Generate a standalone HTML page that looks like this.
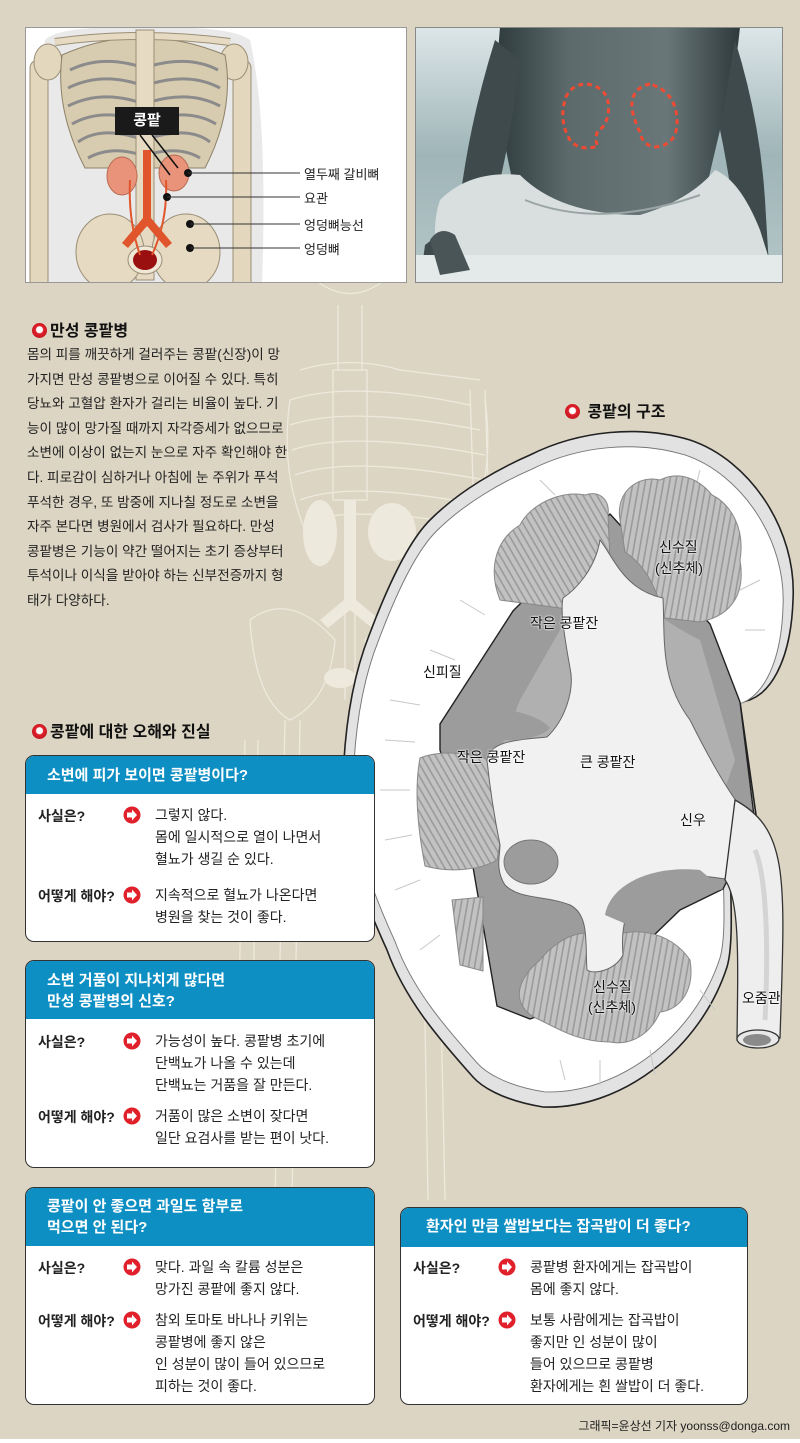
<!DOCTYPE html>
<html><head><meta charset="utf-8">
<style>
*{margin:0;padding:0;box-sizing:border-box}
body{width:800px;height:1443px;background:#dcd5c3;position:relative;overflow:hidden;font-family:"Liberation Sans","Noto Sans CJK KR",sans-serif;color:#222}
.abs{position:absolute}
svg{position:absolute;left:0;top:0}
.h{position:absolute;font-weight:bold;font-size:16px;color:#111;white-space:nowrap}
.dot{display:inline-block;width:15px;height:15px;border-radius:50%;background:radial-gradient(circle at 50% 45%,#fff 0 3px,#e0202a 4px,#b0101a 100%);vertical-align:-2px;margin-right:3px}
.para{position:absolute;left:27px;top:343px;font-size:13.6px;line-height:24.6px;white-space:nowrap;color:#222}
.box{position:absolute;background:#fff;border:1.3px solid #333;border-radius:9px;overflow:hidden}
.bh{background:#0d8fc3;color:#fff;font-weight:bold;font-size:15px;padding-left:21px;line-height:21px}
.lb{position:absolute;font-weight:bold;font-size:14px;white-space:nowrap}
.tx{position:absolute;font-size:14px;line-height:22px;white-space:nowrap}
.ar{position:absolute;width:17px;height:17px}
.cl{position:absolute;font-size:13px;white-space:nowrap;color:#222}
.kl{position:absolute;font-size:14px;white-space:nowrap;color:#111;text-shadow:0 0 2px #fff,0 0 2px #fff}
</style></head><body>

<!-- faint background skeleton -->
<svg width="800" height="1443" style="opacity:.75">
<g fill="none" stroke="#f4f0e6" stroke-width="1.3">
<path d="M318 282 Q350 305 382 282"/>
<path d="M338 305 L338 370 M362 305 L362 370"/>
<rect x="333" y="370" width="34" height="130"/>
<path d="M345 500 L345 700 M355 500 L355 700"/>
<path d="M300 370 Q350 355 400 370 L480 380"/>
<path d="M290 400 Q350 380 470 405 M290 425 Q350 405 480 430 M292 450 Q350 430 485 455 M295 475 Q350 455 485 480 M300 500 Q350 480 480 505 M305 522 Q350 505 470 525"/>
<path d="M290 400 Q280 470 305 530 M485 400 Q495 470 470 530"/>
<path d="M470 390 L480 700 M485 390 L495 700"/>
<path d="M250 620 Q290 590 335 640 Q330 700 290 720 Q255 700 250 620Z"/>
<path d="M450 620 Q410 590 365 640 Q370 700 410 720 Q445 700 450 620Z"/>
<path d="M285 720 L275 1200 M300 720 L292 1200 M420 720 L428 1200 M435 720 L445 1200"/>
<path d="M245 740 L235 1160 M258 740 L250 1160"/>
</g>
<g fill="#f4f0e6">
<ellipse cx="320" cy="533" rx="17" ry="33"/>
<ellipse cx="392" cy="532" rx="24" ry="29"/>
<path d="M344 500 L356 500 L356 600 L380 620 L372 628 L350 610 L328 628 L320 620 L344 600Z"/>
<ellipse cx="340" cy="678" rx="16" ry="10"/>
</g>
</svg>

<!-- top left panel -->
<div class="abs" style="left:25px;top:27px;width:382px;height:256px;background:#fff;border:1px solid #999;overflow:hidden"></div>
<svg width="800" height="300">
<defs><clipPath id="c1"><rect x="26" y="28" width="380" height="254"/></clipPath></defs>
<g clip-path="url(#c1)">
<path d="M45 40 Q60 25 140 28 Q230 25 250 40 Q268 120 262 283 L40 283 Q32 120 45 40Z" fill="#e9e9e9"/>
<rect x="30" y="60" width="18" height="230" rx="8" fill="#e3d7bd" stroke="#9a8e76"/>
<rect x="233" y="60" width="18" height="230" rx="8" fill="#e3d7bd" stroke="#9a8e76"/>
<ellipse cx="48" cy="62" rx="14" ry="18" fill="#e3d7bd" stroke="#9a8e76"/>
<ellipse cx="234" cy="62" rx="14" ry="18" fill="#e3d7bd" stroke="#9a8e76"/>
<path d="M62 55 Q140 20 225 55 Q235 110 205 168 L85 168 Q55 110 62 55Z" fill="#d8ccb0" stroke="#8d8068"/>
<g fill="none" stroke="#8b8b8b" stroke-width="3">
<path d="M70 70 Q100 55 138 66 M150 66 Q190 55 218 70"/>
<path d="M68 88 Q100 72 138 84 M150 84 Q190 72 220 88"/>
<path d="M68 106 Q100 90 138 102 M150 102 Q190 90 220 106"/>
<path d="M72 124 Q100 108 138 120 M150 120 Q190 108 216 124"/>
<path d="M78 142 Q100 126 138 138 M150 138 Q190 126 210 142"/>
<path d="M88 158 Q110 146 138 154 M150 154 Q180 146 200 158"/>
</g>
<path d="M55 42 Q140 30 230 42" stroke="#9a8e76" stroke-width="8" fill="none"/>
<path d="M55 42 Q140 30 230 42" stroke="#e6dbc2" stroke-width="6" fill="none"/>
<rect x="136" y="30" width="18" height="250" fill="#e6dbc2" stroke="#9a8e76"/>
<ellipse cx="110" cy="252" rx="34" ry="38" fill="#e6dbc2" stroke="#9a8e76"/>
<ellipse cx="186" cy="252" rx="34" ry="38" fill="#e6dbc2" stroke="#9a8e76"/>
<ellipse cx="145" cy="260" rx="17" ry="14" fill="#f0e8d6" stroke="#9a8e76"/>
<ellipse cx="145" cy="260" rx="12" ry="10" fill="#9a1010"/>
<ellipse cx="122" cy="176" rx="15" ry="19" fill="#e8937a" stroke="#b86a52"/>
<ellipse cx="174" cy="173" rx="15" ry="18" fill="#e8937a" stroke="#b86a52"/>
<path d="M143 150 L151 150 L151 218 L172 243 L166 248 L147 226 L128 248 L122 243 L143 218Z" fill="#e0552c"/>
<path d="M130 180 Q128 220 140 255 M166 180 Q168 220 152 255" stroke="#e0552c" stroke-width="2" fill="none"/>
<path d="M140 135 L170 175 M152 135 L178 168" stroke="#111" stroke-width="1.5"/>
<g fill="#111"><circle cx="188" cy="173" r="4"/><circle cx="167" cy="197" r="4"/><circle cx="190" cy="224" r="4"/><circle cx="190" cy="248" r="4"/></g>
<g stroke="#333" stroke-width="1"><path d="M188 173H300M167 197H300M190 224H300M190 248H300"/></g>
</g>
</svg>
<div class="abs" style="left:115px;top:107px;width:64px;height:28px;background:#1a1a1a;color:#fff;font-weight:bold;font-size:15px;text-align:center;line-height:28px">콩팥</div>
<div class="cl" style="left:304px;top:164px">열두째 갈비뼈</div>
<div class="cl" style="left:304px;top:188px">요관</div>
<div class="cl" style="left:304px;top:215px">엉덩뼈능선</div>
<div class="cl" style="left:304px;top:239px">엉덩뼈</div>

<!-- photo panel -->
<svg width="800" height="300">
<defs>
<clipPath id="c2"><rect x="415" y="27" width="368" height="256"/></clipPath>
<linearGradient id="bgp" x1="0" x2="0" y1="0" y2="1"><stop offset="0" stop-color="#dde6e8"/><stop offset=".5" stop-color="#9fb5b8"/><stop offset="1" stop-color="#b5c6c8"/></linearGradient>
<linearGradient id="tor" x1="0" x2="1"><stop offset="0" stop-color="#2e3a3c"/><stop offset=".3" stop-color="#5c6a6c"/><stop offset=".7" stop-color="#6a7779"/><stop offset="1" stop-color="#2e3a3c"/></linearGradient>
</defs>
<g clip-path="url(#c2)">
<rect x="415" y="27" width="368" height="256" fill="url(#bgp)"/>
<path d="M500 27 L740 27 Q735 80 720 130 L700 215 L520 215 Q505 150 495 90Z" fill="url(#tor)"/>
<path d="M495 40 Q470 120 460 200 Q440 235 425 245 L420 283 L470 283 Q475 240 490 220 Q510 150 520 60Z" fill="#3e4a4c"/>
<path d="M735 40 Q760 120 765 200 L770 283 L740 283 Q735 200 720 130Z" fill="#3e4a4c"/>
<path d="M440 200 Q470 170 520 175 Q560 215 640 215 Q690 200 715 170 Q740 180 760 230 L770 262 L440 262 Q430 230 440 200Z" fill="#d9dfdf"/>
<path d="M525 200 Q600 230 700 195" stroke="#9aa5a5" stroke-width="2" fill="none"/>
<rect x="415" y="255" width="368" height="28" fill="#e4eaea"/>
<path d="M430 240 Q440 225 455 235 L470 270 L440 275Z" fill="#4a5557"/>
<g fill="none" stroke="#f04a32" stroke-width="3" stroke-dasharray="5 4">
<path d="M587 84 Q612 88 608 115 Q605 128 598 130 Q594 140 598 146 Q580 152 570 140 Q558 120 566 97 Q572 84 587 84Z"/>
<path d="M650 84 Q630 88 632 110 Q636 125 640 132 Q642 145 655 147 Q678 145 677 120 Q676 92 650 84Z"/>
</g>
</g>
<rect x="415.5" y="27.5" width="367" height="255" fill="none" stroke="#888"/>
</svg>

<!-- kidney diagram -->
<svg width="800" height="1443">
<defs>
<pattern id="st" width="6" height="6" patternUnits="userSpaceOnUse" patternTransform="rotate(60)">
<rect width="6" height="6" fill="#c2c2c2"/><rect width="6" height="1.6" fill="#9a9a9a"/></pattern>
<pattern id="st2" width="6" height="6" patternUnits="userSpaceOnUse" patternTransform="rotate(100)">
<rect width="6" height="6" fill="#c2c2c2"/><rect width="6" height="1.6" fill="#9a9a9a"/></pattern>
</defs>
<path d="M530 455 C580 430 640 425 690 440 C750 460 797 530 793 600 C791 660 770 700 740 702 L757 822 L730 870 C732 920 732 950 727 967 C700 1050 620 1110 543 1107 C500 1100 480 1085 473 1077 C440 1040 405 1000 387 950 C355 880 340 830 343 780 C345 720 355 670 370 633 C390 580 410 540 430 520 C460 490 500 468 530 455Z" fill="#e2e2e2" stroke="#222" stroke-width="1.6"/>
<path transform="translate(570 770) scale(.955) translate(-570 -770)" d="M530 455 C580 430 640 425 690 440 C750 460 797 530 793 600 C791 660 770 700 740 702 L757 822 L730 870 C732 920 732 950 727 967 C700 1050 620 1110 543 1107 C500 1100 480 1085 473 1077 C440 1040 405 1000 387 950 C355 880 340 830 343 780 C345 720 355 670 370 633 C390 580 410 540 430 520 C460 490 500 468 530 455Z" fill="#fff" stroke="#777" stroke-width="1"/>
<g stroke="#c8c8c8" stroke-width="1" fill="none">
<path d="M390 700 L420 705 M385 740 L415 742 M380 790 L410 790 M385 840 L412 835 M395 890 L420 880 M420 950 L440 935 M460 600 L485 615 M430 650 L455 660 M560 1060 L565 1080 M600 1060 L600 1085 M650 1050 L655 1075 M700 990 L715 1010 M760 580 L740 590 M765 630 L745 630 M540 480 L555 495 M700 470 L695 490"/>
</g>
<path d="M610 514 L710 624 L740 702 L755 824 L723 889 L680 910 L590 997 L530 1019 L497 1006 L473 867 L440 750 L440 724 L513 611 Z" fill="#9c9c9c" stroke="#222" stroke-width="1.4"/>
<path d="M600 560 Q640 610 700 640 L735 760 L700 860 L600 900 L520 880 L480 800 L520 700Z" fill="#b0b0b0"/>
<path d="M590 612 L500 600 C488 570 495 540 520 525 C530 505 560 490 585 495 C600 490 610 500 608 515 L610 560 Z" fill="url(#st)" stroke="#888"/>
<path d="M620 520 C615 490 640 475 660 480 C680 470 700 480 712 495 C732 505 745 530 740 560 C745 590 735 615 700 622 L665 618 C655 585 645 565 625 552 Z" fill="url(#st2)" stroke="#888"/>
<path d="M497 762 C470 752 440 750 420 758 C414 790 418 830 425 866 C450 873 480 870 497 860 C503 830 506 800 497 762 Z" fill="url(#st)" stroke="#888"/>
<path d="M452 900 L483 897 L483 971 L460 965 Z" fill="url(#st2)" stroke="#888"/>
<path d="M540 960 C560 935 590 925 605 940 C630 925 670 930 690 960 C695 990 680 1010 660 1012 C650 1035 630 1046 610 1042 C580 1042 560 1030 540 1020 C515 1010 510 985 540 960 Z" fill="url(#st2)" stroke="#888"/>
<path d="M600 540 C615 560 625 590 663 598 C665 640 660 680 690 720 C720 780 740 810 760 830 L740 880 C720 880 690 870 660 880 C630 890 620 920 623 955 C615 970 595 975 587 970 C585 945 590 915 570 905 C545 895 520 900 505 885 C495 870 500 855 500 845 C495 820 490 790 487 760 C490 740 520 740 547 737 C565 720 575 690 570 668 C565 640 560 610 563 598 C575 590 595 570 600 540 Z" fill="#f1f1f1" stroke="#666" stroke-width="1"/>
<ellipse cx="531" cy="862" rx="27" ry="22" fill="#9c9c9c" stroke="#777"/>
<path d="M605 915 C610 885 650 865 700 870 L723 889 C690 900 660 905 640 930 Z" fill="#9c9c9c"/>
<path d="M480 710 C500 705 540 715 550 728 C540 740 500 745 485 735Z" fill="#9c9c9c"/>
<path d="M735 800 C790 830 785 880 780 1038 L737 1040 C738 960 740 900 725 880 Z" fill="#eeeeee" stroke="#333" stroke-width="1.3"/>
<path d="M755 850 C768 880 768 960 765 1020" stroke="#d4d4d4" stroke-width="5" fill="none"/>
<ellipse cx="758" cy="1039" rx="21" ry="9" fill="#e8e8e8" stroke="#333" stroke-width="1.3"/>
<ellipse cx="757" cy="1040" rx="14" ry="6" fill="#8a8a8a"/>
</svg>
<div class="kl" style="left:423px;top:662px">신피질</div>
<div class="kl" style="left:530px;top:613px">작은 콩팥잔</div>
<div class="kl" style="left:457px;top:747px">작은 콩팥잔</div>
<div class="kl" style="left:580px;top:752px">큰 콩팥잔</div>
<div class="kl" style="left:680px;top:810px">신우</div>
<div class="kl" style="left:659px;top:537px">신수질</div>
<div class="kl" style="left:655px;top:558px">(신추체)</div>
<div class="kl" style="left:593px;top:977px">신수질</div>
<div class="kl" style="left:588px;top:997px">(신추체)</div>
<div class="kl" style="left:742px;top:988px">오줌관</div>

<!-- headers -->
<div class="h" style="left:32px;top:317px"><span class="dot"></span>만성 콩팥병</div>
<div class="h" style="left:565px;top:398px"><span class="dot"></span> 콩팥의 구조</div>
<div class="h" style="left:32px;top:718px"><span class="dot"></span>콩팥에 대한 오해와 진실</div>

<div class="para">몸의 피를 깨끗하게 걸러주는 콩팥(신장)이 망<br>가지면 만성 콩팥병으로 이어질 수 있다. 특히<br>당뇨와 고혈압 환자가 걸리는 비율이 높다. 기<br>능이 많이 망가질 때까지 자각증세가 없으므로<br>소변에 이상이 없는지 눈으로 자주 확인해야 한<br>다. 피로감이 심하거나 아침에 눈 주위가 푸석<br>푸석한 경우, 또 밤중에 지나칠 정도로 소변을<br>자주 본다면 병원에서 검사가 필요하다. 만성<br>콩팥병은 기능이 약간 떨어지는 초기 증상부터<br>투석이나 이식을 받아야 하는 신부전증까지 형<br>태가 다양하다.</div>

<!-- box 1 -->
<div class="box" style="left:25px;top:755px;width:350px;height:187px">
<div class="bh" style="height:38px;padding-top:9px">소변에 피가 보이면 콩팥병이다?</div>
</div>
<div class="lb" style="left:38px;top:806px">사실은?</div>
<div class="lb" style="left:38px;top:886px">어떻게 해야?</div>
<div class="tx" style="left:155px;top:804px">그렇지 않다.<br>몸에 일시적으로 열이 나면서<br>혈뇨가 생길 순 있다.</div>
<div class="tx" style="left:155px;top:884px">지속적으로 혈뇨가 나온다면<br>병원을 찾는 것이 좋다.</div>

<!-- box 2 -->
<div class="box" style="left:25px;top:960px;width:350px;height:208px">
<div class="bh" style="height:58px;padding-top:9px">소변 거품이 지나치게 많다면<br>만성 콩팥병의 신호?</div>
</div>
<div class="lb" style="left:38px;top:1032px">사실은?</div>
<div class="lb" style="left:38px;top:1107px">어떻게 해야?</div>
<div class="tx" style="left:155px;top:1030px">가능성이 높다. 콩팥병 초기에<br>단백뇨가 나올 수 있는데<br>단백뇨는 거품을 잘 만든다.</div>
<div class="tx" style="left:155px;top:1105px">거품이 많은 소변이 잦다면<br>일단 요검사를 받는 편이 낫다.</div>

<!-- box 3 -->
<div class="box" style="left:25px;top:1187px;width:350px;height:218px">
<div class="bh" style="height:58px;padding-top:8px">콩팥이 안 좋으면 과일도 함부로<br>먹으면 안 된다?</div>
</div>
<div class="lb" style="left:38px;top:1258px">사실은?</div>
<div class="lb" style="left:38px;top:1311px">어떻게 해야?</div>
<div class="tx" style="left:155px;top:1256px">맞다. 과일 속 칼륨 성분은<br>망가진 콩팥에 좋지 않다.</div>
<div class="tx" style="left:155px;top:1309px">참외 토마토 바나나 키위는<br>콩팥병에 좋지 않은<br>인 성분이 많이 들어 있으므로<br>피하는 것이 좋다.</div>

<!-- box 4 -->
<div class="box" style="left:400px;top:1207px;width:348px;height:198px">
<div class="bh" style="height:39px;padding-top:8px;padding-left:25px">환자인 만큼 쌀밥보다는 잡곡밥이 더 좋다?</div>
</div>
<div class="lb" style="left:413px;top:1258px">사실은?</div>
<div class="lb" style="left:413px;top:1311px">어떻게 해야?</div>
<div class="tx" style="left:530px;top:1256px">콩팥병 환자에게는 잡곡밥이<br>몸에 좋지 않다.</div>
<div class="tx" style="left:530px;top:1309px">보통 사람에게는 잡곡밥이<br>좋지만 인 성분이 많이<br>들어 있으므로 콩팥병<br>환자에게는 흰 쌀밥이 더 좋다.</div>

<!-- arrows -->
<svg width="800" height="1443">
<defs><g id="arw"><circle r="8.5" fill="#e0202a"/><path d="M-5 -2.5 H0 V-5.5 L5 0 L0 5.5 V2.5 H-5Z" fill="#fff"/></g></defs>
<use href="#arw" x="132" y="815"/><use href="#arw" x="132" y="895"/>
<use href="#arw" x="132" y="1041"/><use href="#arw" x="132" y="1116"/>
<use href="#arw" x="132" y="1267"/><use href="#arw" x="132" y="1320"/>
<use href="#arw" x="507" y="1267"/><use href="#arw" x="507" y="1320"/>
</svg>

<div class="abs" style="right:10px;top:1417px;font-size:12px;color:#222;white-space:nowrap">그래픽=윤상선 기자 yoonss@donga.com</div>
<div class="abs" style="left:0;top:1439px;width:800px;height:4px;background:#fff"></div>
</body></html>
